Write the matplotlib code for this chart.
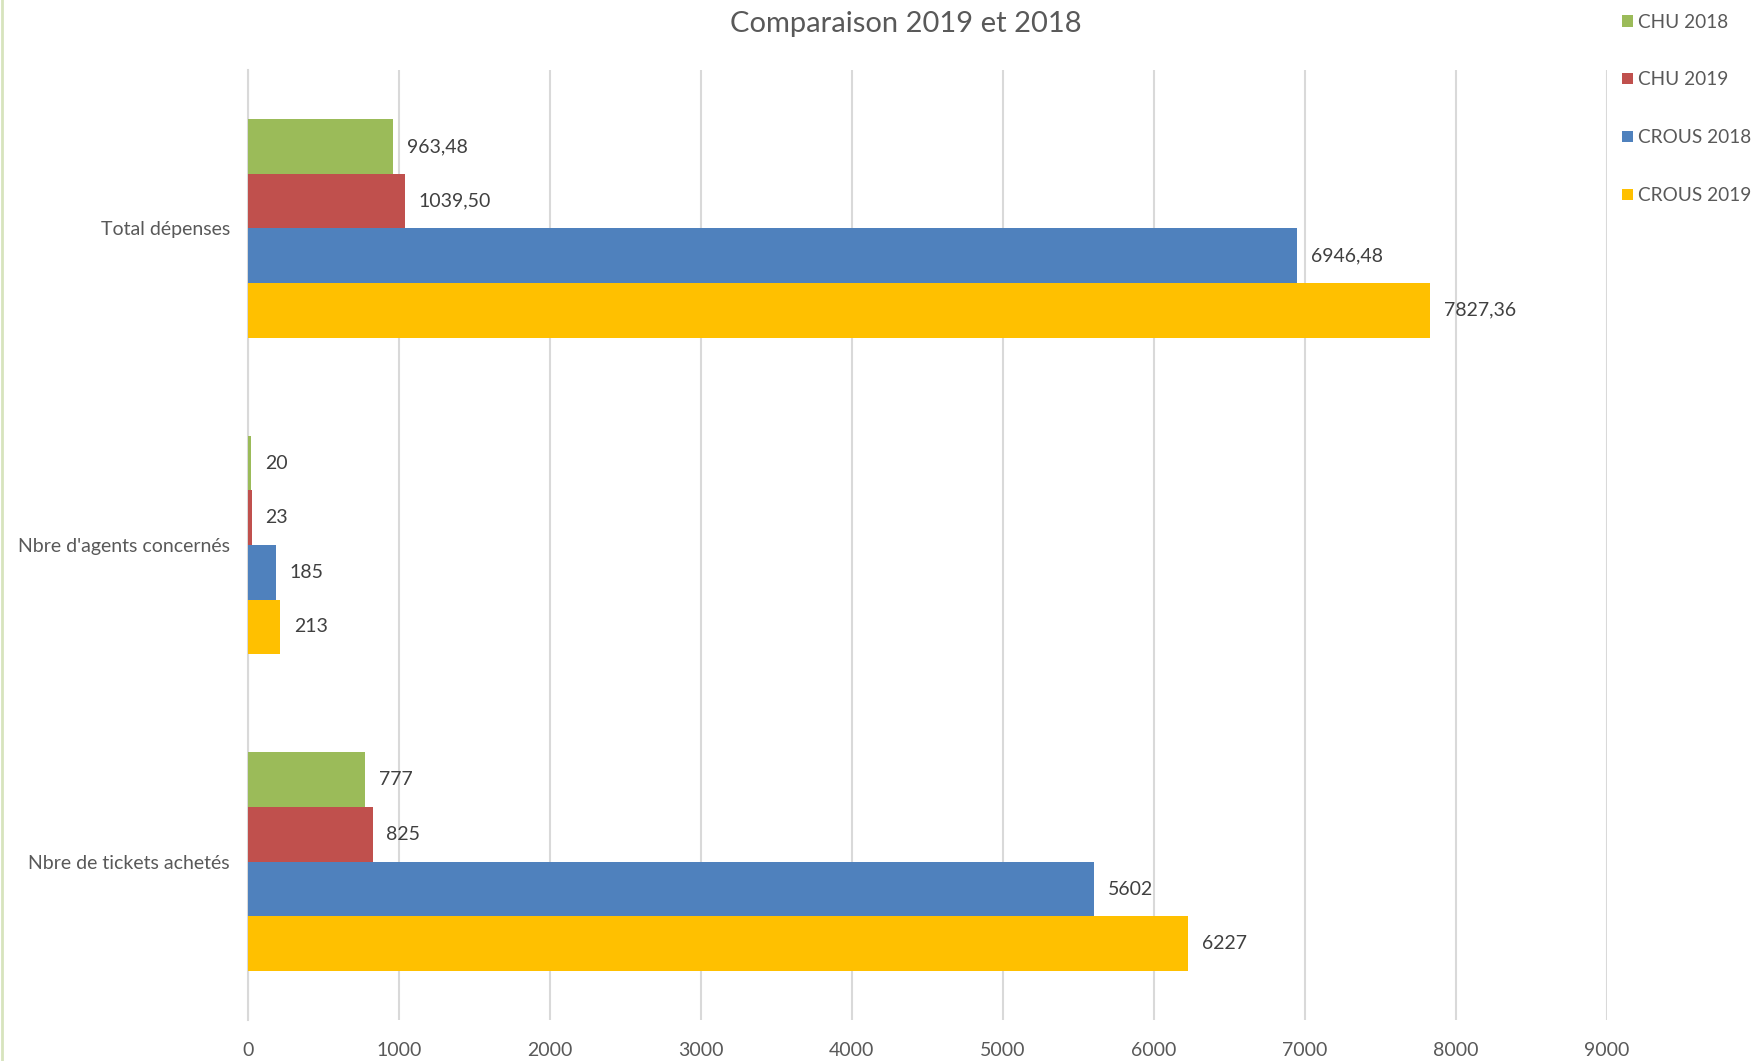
import numpy as np
import matplotlib.pyplot as plt
from matplotlib.lines import Line2D

# Données
categories = ["Nbre de tickets achetés", "Nbre d'agents concernés", "Total dépenses"]
series = ["CHU 2018", "CHU 2019", "CROUS 2018", "CROUS 2019"]
chu_2018 = [777, 20, 963.48]
chu_2019 = [825, 23, 1039.50]
crous_2018 = [5602, 185, 6946.48]
crous_2019 = [6227, 213, 7827.36]
etiquettes_total = ["963,48", "1039,50", "6946,48", "7827,36"]
ticks_x = [0, 1000, 2000, 3000, 4000, 5000, 6000, 7000, 8000, 9000]

couleurs = ["#9BBB59", "#C0504D", "#4F81BD", "#FFC000"]
valeurs = [chu_2018, chu_2019, crous_2018, crous_2019]


def formater(v):
    # Format Excel : décimales avec virgule, entiers sans décimales
    if float(v).is_integer():
        return f"{int(v)}"
    return f"{v:.2f}".replace(".", ",")


plt.rcParams['font.family'] = ['Lato', 'DejaVu Sans']

fig = plt.figure(figsize=(17.53, 10.61), dpi=100)
ax = fig.add_axes([0.1415, 0.0386, 0.775, 0.8954])

y = np.arange(len(categories))
h = 0.69 / 4
decalages = [1.5 * h, 0.5 * h, -0.5 * h, -1.5 * h]

for i, (serie, vals, coul, dec) in enumerate(zip(series, valeurs, couleurs, decalages)):
    barres = ax.barh(y + dec, vals, height=h, color=coul, label=serie, zorder=3)
    labels = [formater(v) for v in vals]
    labels[2] = etiquettes_total[i]
    ax.bar_label(barres, labels=labels, padding=10,
                 fontsize=14, color="#404040")

ax.set_xlim(0, 9000)
ax.set_ylim(-0.5, 2.5)
ax.set_xticks(ticks_x)
ax.set_yticks(y)
ax.set_yticklabels(categories)
ax.tick_params(axis='both', length=0, labelsize=14, labelcolor="#595959")
ax.tick_params(axis='y', pad=13)
ax.tick_params(axis='x', pad=16)
ax.grid(axis='x', color="#D9D9D9", linewidth=1.5, zorder=0)
for s in ['top', 'right', 'bottom']:
    ax.spines[s].set_visible(False)
ax.spines['left'].set_color("#D9D9D9")
ax.spines['left'].set_linewidth(1.5)

fig.text(0.517, 0.977, "Comparaison 2019 et 2018", ha='center', va='center',
         fontsize=21, color="#595959")

handles, labels = ax.get_legend_handles_labels()
fig.legend(handles, labels, loc='upper left', bbox_to_anchor=(0.919, 0.998),
           frameon=False, fontsize=13.7, labelcolor="#595959",
           handlelength=0.55, handleheight=0.55, handletextpad=0.25,
           labelspacing=2.15, borderaxespad=0.2)

# bordure verte fine à gauche (capture d'écran)
fig.add_artist(Line2D([0.0012, 0.0012], [0, 1], color="#D7E4BD", linewidth=2,
                      transform=fig.transFigure))

fig.savefig("out.png", dpi=100)
